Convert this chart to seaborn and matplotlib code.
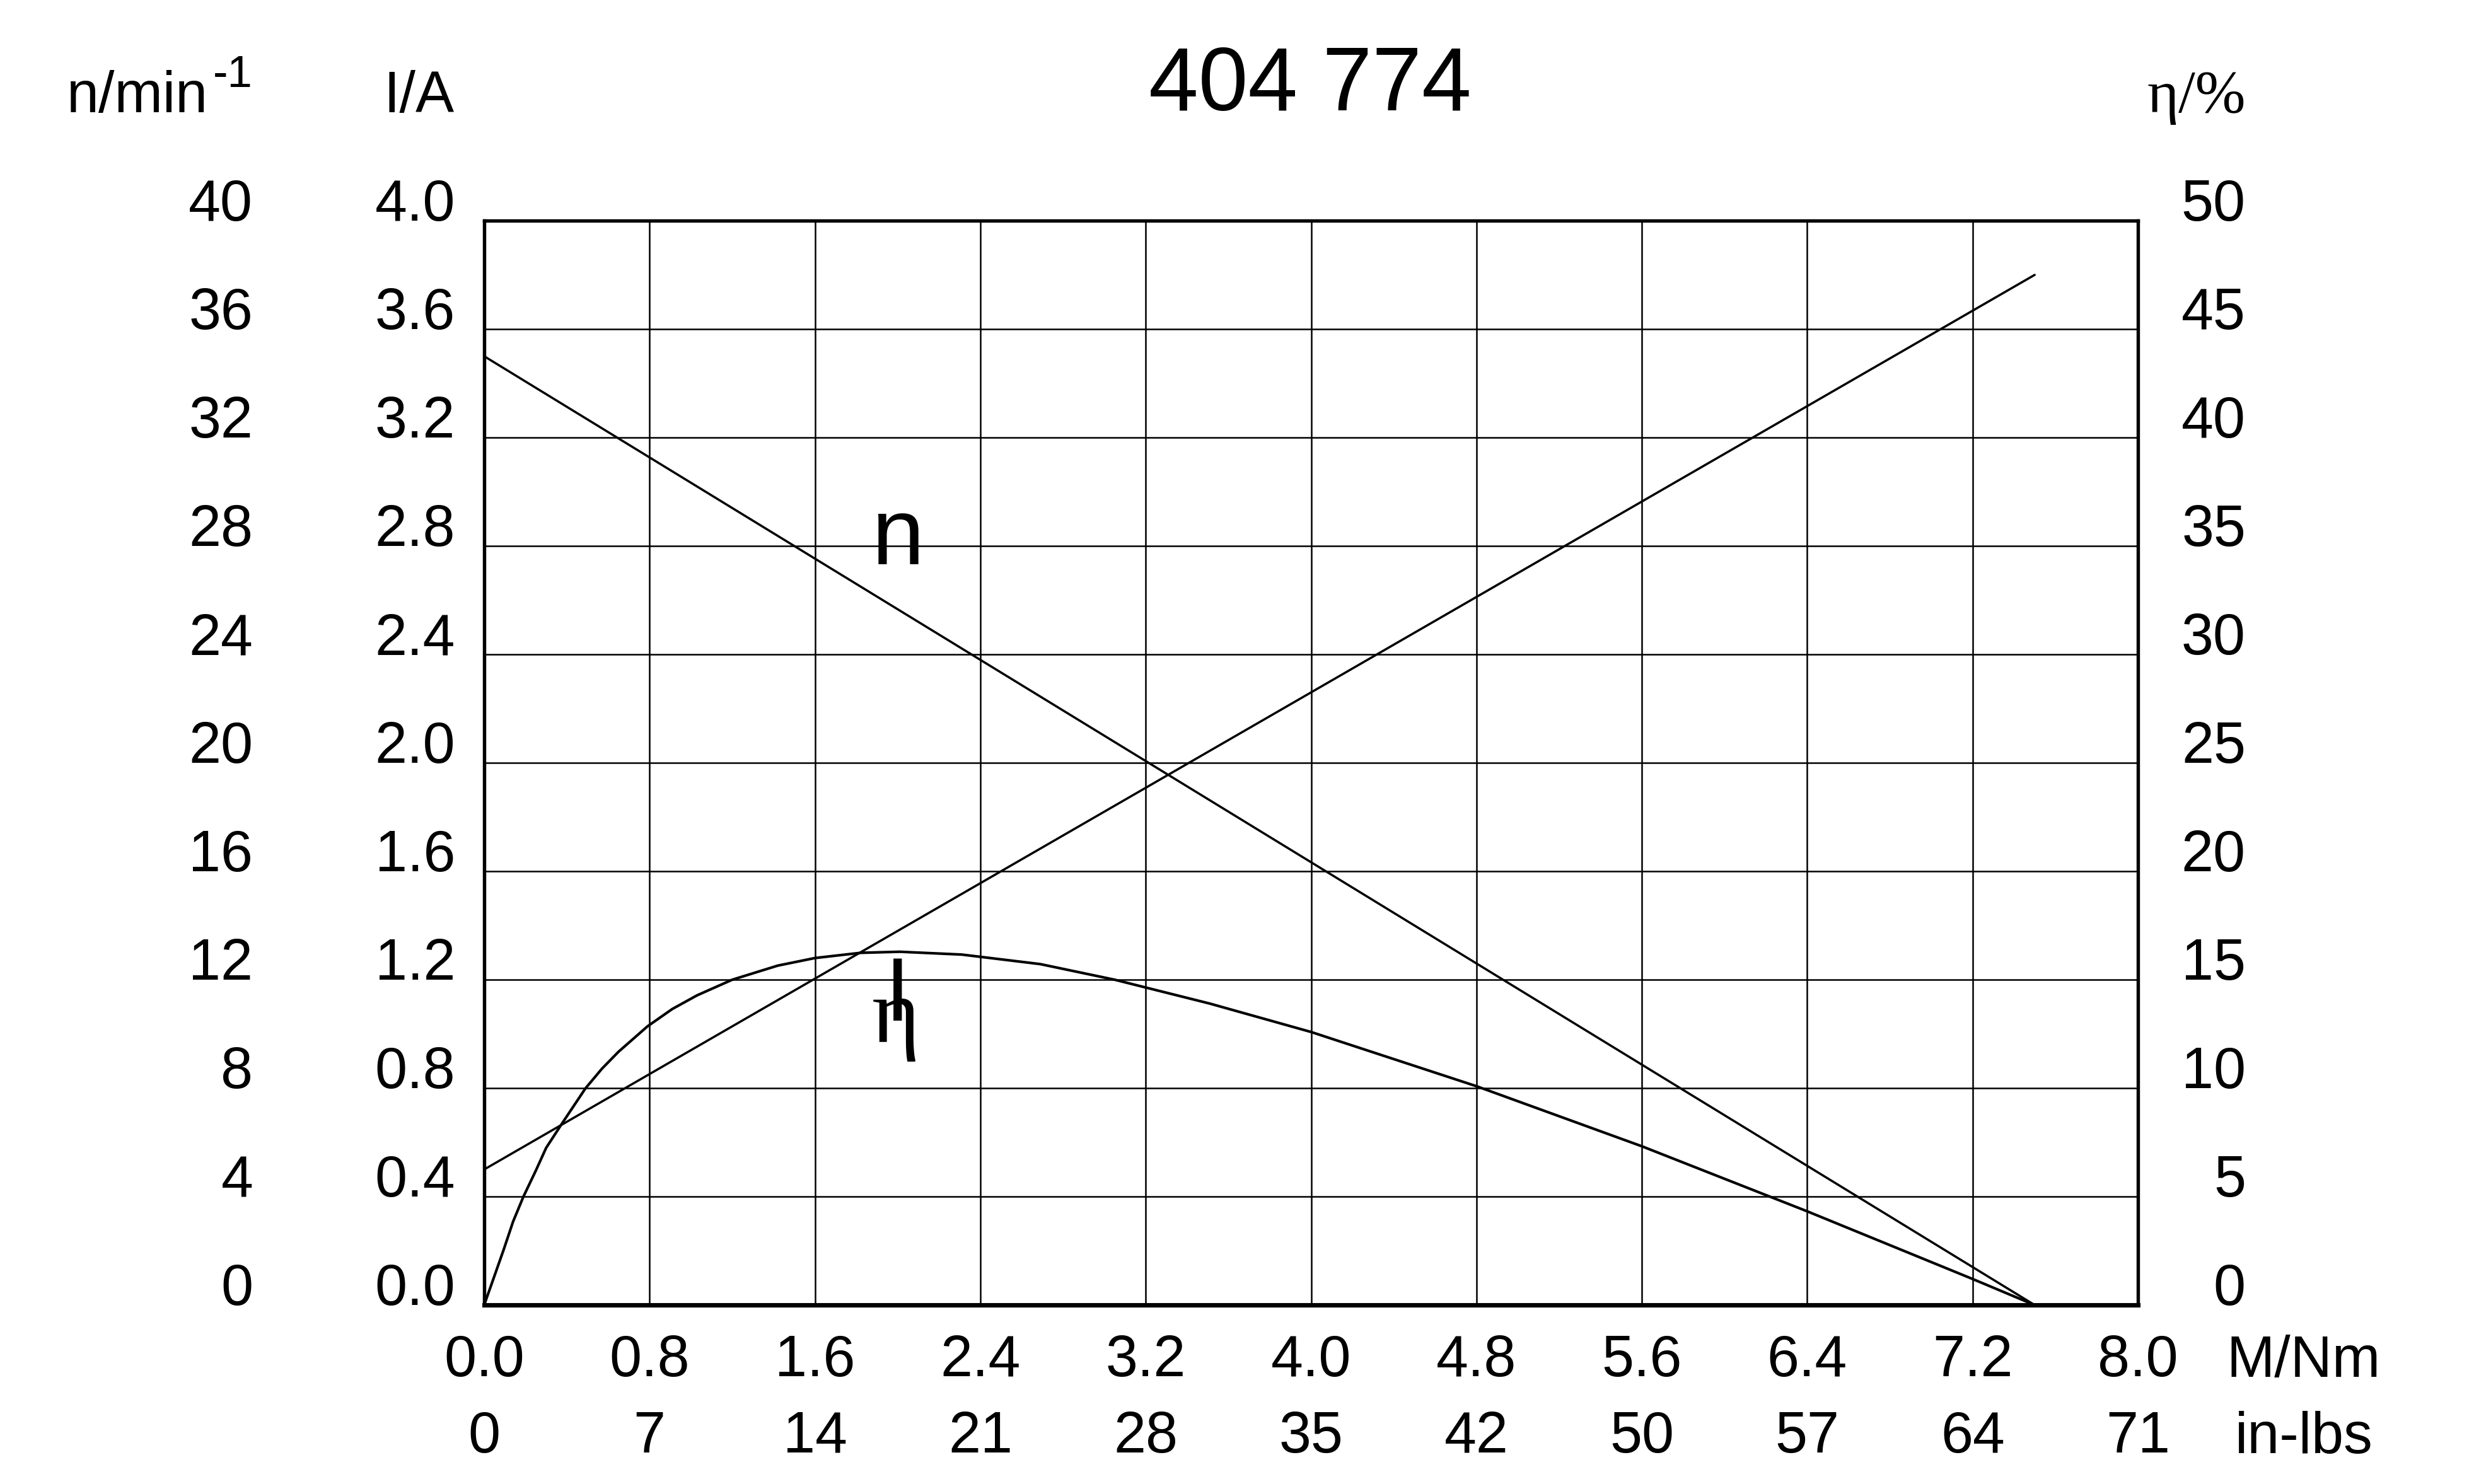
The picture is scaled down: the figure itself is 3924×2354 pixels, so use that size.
"""
Motor characteristic 404 774: speed, current and efficiency over torque.
"""

import matplotlib
matplotlib.use("Agg")

import matplotlib.pyplot as plt
import seaborn as sns


# --- axis ticks ---
torque_ticks = [0.0, 0.8, 1.6, 2.4, 3.2, 4.0, 4.8, 5.6, 6.4, 7.2, 8.0]
torque_labels = ["0.0", "0.8", "1.6", "2.4", "3.2", "4.0", "4.8", "5.6", "6.4", "7.2", "8.0"]
inlbs_labels = ["0", "7", "14", "21", "28", "35", "42", "50", "57", "64", "71"]

speed_ticks = [0, 4, 8, 12, 16, 20, 24, 28, 32, 36, 40]
current_ticks = [0.0, 0.4, 0.8, 1.2, 1.6, 2.0, 2.4, 2.8, 3.2, 3.6, 4.0]
current_labels = ["0.0", "0.4", "0.8", "1.2", "1.6", "2.0", "2.4", "2.8", "3.2", "3.6", "4.0"]
eff_ticks = [0, 5, 10, 15, 20, 25, 30, 35, 40, 45, 50]

# --- curves ---
speed_torque = [0.0, 7.5]
speed_values = [35.0, 0.0]

current_torque = [0.0, 7.5]
current_values = [0.5, 3.8]

eff_torque = [0.0, 0.05, 0.095, 0.14, 0.19, 0.25, 0.30, 0.38, 0.49, 0.57, 0.65, 0.79,
              0.91, 1.03, 1.2, 1.42, 1.6, 1.82, 2.01, 2.31, 2.69, 3.05, 3.51, 4.0,
              4.8, 5.6, 6.4, 7.2, 7.5]
eff_values = [0.0, 1.35, 2.57, 3.85, 5.0, 6.2, 7.25, 8.42, 9.99, 10.9, 11.68, 12.85,
              13.65, 14.28, 15.0, 15.65, 16.0, 16.24, 16.29, 16.16, 15.72, 15.0, 13.9, 12.59,
              10.09, 7.32, 4.32, 1.2, 0.0]


def main() -> None:
    sns.set_style("white")
    plt.rcParams["font.family"] = ["Liberation Sans", "DejaVu Sans"]
    plt.rcParams["text.color"] = "black"
    plt.rcParams["xtick.color"] = "black"
    plt.rcParams["ytick.color"] = "black"
    plt.rcParams["axes.labelcolor"] = "black"

    fig = plt.figure(figsize=(3924 / 300, 2354 / 300), dpi=300)
    ax = fig.add_axes([0.1957, 0.1206, 0.6685, 0.7307])
    ax_n = ax.twinx()
    ax_eta = ax.twinx()

    # --- curves ---
    sns.lineplot(x=current_torque, y=current_values, ax=ax, color="black", linewidth=0.85)
    sns.lineplot(x=speed_torque, y=speed_values, ax=ax_n, color="black", linewidth=0.85)
    sns.lineplot(x=eff_torque, y=eff_values, ax=ax_eta, color="black", linewidth=1.0)

    # --- scales & grid ---
    ax.set_xlim(0, 8)
    ax.set_ylim(0, 4)
    ax_n.set_ylim(0, 40)
    ax_eta.set_ylim(0, 50)

    tick_font = 22
    ax.set_xticks(torque_ticks, labels=torque_labels, fontsize=tick_font)
    ax.set_yticks(current_ticks, labels=current_labels, fontsize=tick_font, va="baseline")
    ax.tick_params(length=0)
    ax.tick_params(axis="x", pad=11)
    ax.tick_params(axis="y", pad=11)

    # in-lbs row under the Nm labels
    sec = ax.secondary_xaxis("bottom")
    sec.set_xticks(torque_ticks, labels=inlbs_labels, fontsize=tick_font)
    sec.tick_params(length=0, pad=40)
    sec.spines["bottom"].set_visible(False)

    ax_n.set_yticks(speed_ticks, labels=[str(v) for v in speed_ticks],
                    fontsize=tick_font, va="baseline")
    ax_n.yaxis.set_ticks_position("left")
    ax_n.tick_params(axis="y", length=0, pad=88, left=True, labelleft=True,
                     right=False, labelright=False)

    ax_eta.set_yticks(eff_ticks, labels=[str(v) for v in eff_ticks],
                      fontsize=tick_font, va="baseline", ha="right")
    ax_eta.tick_params(axis="y", length=0, pad=41)

    for a in (ax, ax_n, ax_eta):
        a.set_xlabel("")
        a.set_ylabel("")
        a.grid(False)
        for side in a.spines.values():
            side.set_linewidth(1.3)
            side.set_color("black")
    ax.grid(True, color="black", linewidth=0.6)
    for a in (ax_n, ax_eta):
        for side in a.spines.values():
            side.set_visible(False)
    ax.spines["bottom"].set_linewidth(1.7)

    # --- curve labels ---
    ax.text(2.0, 2.733, "n", fontsize=36, ha="center", va="baseline")
    ax.text(2.0, 1.049, "I", fontsize=34, ha="center", va="baseline")
    ax.text(1.99, 0.97, "η", fontsize=35, ha="center", va="baseline",
            family=["Liberation Serif", "DejaVu Serif"])

    # --- headers ---
    fig.text(0.5296, 0.9256, "404 774", fontsize=34, ha="center", va="baseline")
    fig.text(0.0841, 0.9243, "n/min", fontsize=tick_font, ha="right", va="baseline")
    fig.text(0.0862, 0.9414, "-1", fontsize=17, ha="left", va="baseline")
    fig.text(0.1837, 0.9243, "I/A", fontsize=tick_font, ha="right", va="baseline")
    fig.text(0.9078, 0.9243, "η/%", fontsize=23, ha="right", va="baseline",
             family=["Liberation Serif", "DejaVu Serif"])

    fig.text(0.9312, 0.0722, "M/Nm", fontsize=tick_font, ha="center", va="baseline")
    fig.text(0.9312, 0.0208, "in-lbs", fontsize=tick_font, ha="center", va="baseline")

    fig.savefig("out.png", dpi=300, facecolor="white")
    plt.close(fig)


if __name__ == "__main__":
    main()
